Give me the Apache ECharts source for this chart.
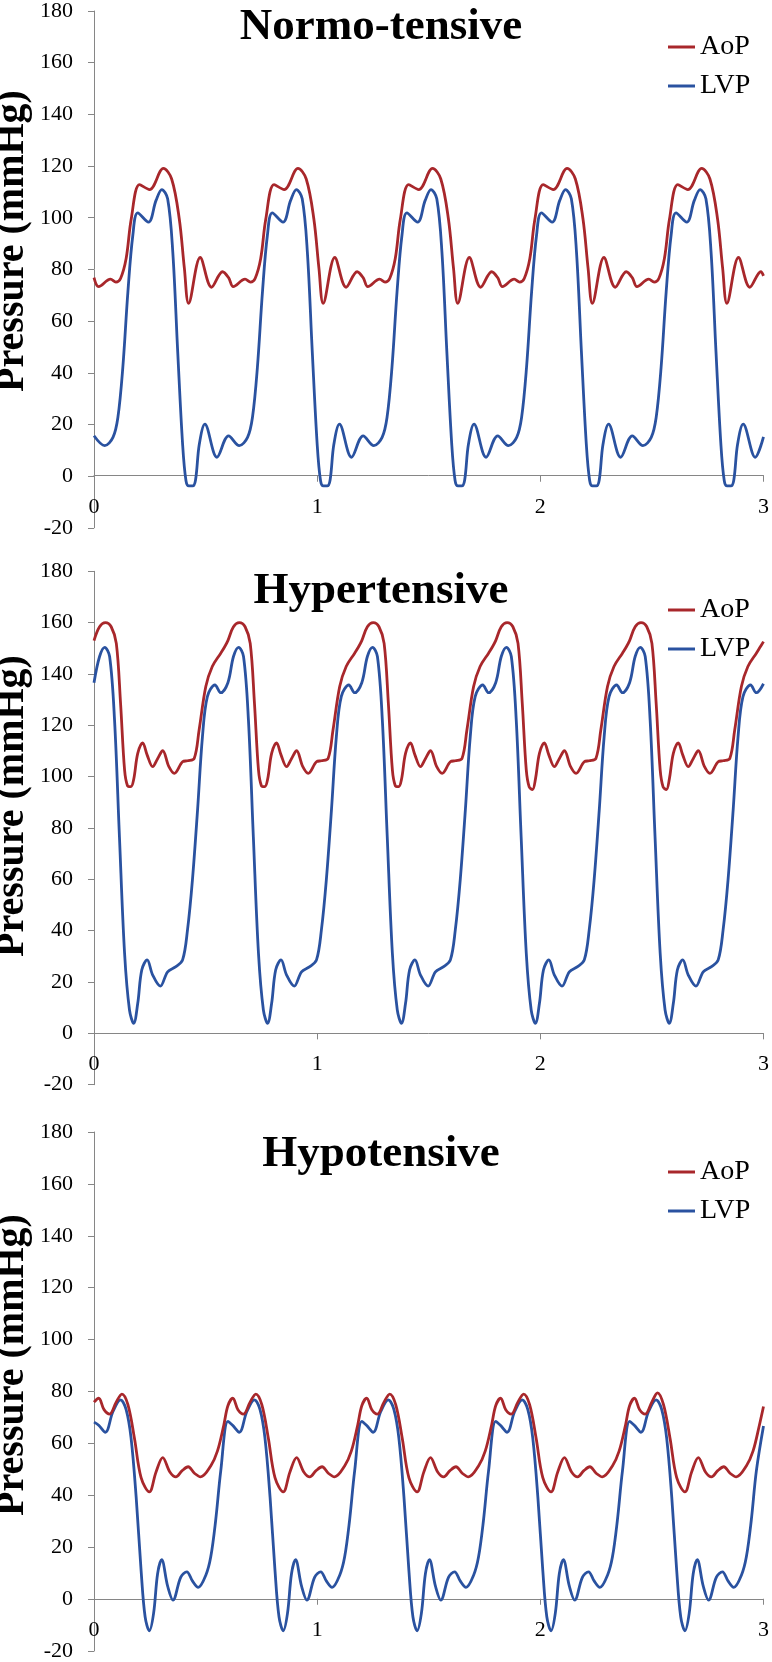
<!DOCTYPE html>
<html>
<head>
<meta charset="utf-8">
<script src="https://cdn.jsdelivr.net/npm/echarts@6/dist/echarts.min.js"></script>
<style>
html,body{margin:0;padding:0;background:#fff;}
#chart{width:772px;height:1662px;}
</style>
</head>
<body>
<div id="chart"></div>
<script>
// ---- data (time in s, pressure in mmHg) ----
const panelTitles = ['Normo-tensive', 'Hypertensive', 'Hypotensive'];
const seriesNames = ['AoP', 'LVP'];
const yLabelText = 'Pressure (mmHg)';

const normoAoP = [
[0,76.8],[0.021,73.3],[0.074,76.2],[0.098,75.1],[0.119,76.5],[0.144,84.2],[0.167,99.6],[0.204,112.8],[0.249,110.9],[0.311,119.1],[0.348,115],[0.382,99.6],[0.405,80.4],[0.424,66.9],[0.476,84.6],[0.527,73.1],[0.576,79.1],
[0.603,76.8],[0.624,73.3],[0.677,76.2],[0.701,75.1],[0.722,76.5],[0.747,84.2],[0.770,99.6],[0.807,112.8],[0.852,110.9],[0.914,119.1],[0.951,115],[0.985,99.6],[1.008,80.4],[1.027,66.9],[1.079,84.6],[1.130,73.1],[1.179,79.1],
[1.206,76.8],[1.227,73.3],[1.280,76.2],[1.304,75.1],[1.325,76.5],[1.350,84.2],[1.373,99.6],[1.410,112.8],[1.455,110.9],[1.517,119.1],[1.554,115],[1.588,99.6],[1.611,80.4],[1.630,66.9],[1.682,84.6],[1.733,73.1],[1.782,79.1],
[1.809,76.8],[1.830,73.3],[1.883,76.2],[1.907,75.1],[1.928,76.5],[1.953,84.2],[1.976,99.6],[2.013,112.8],[2.058,110.9],[2.120,119.1],[2.157,115],[2.191,99.6],[2.214,80.4],[2.233,66.9],[2.285,84.6],[2.336,73.1],[2.385,79.1],
[2.412,76.8],[2.433,73.3],[2.486,76.2],[2.510,75.1],[2.531,76.5],[2.556,84.2],[2.579,99.6],[2.616,112.8],[2.661,110.9],[2.723,119.1],[2.760,115],[2.794,99.6],[2.817,80.4],[2.836,66.9],[2.888,84.6],[2.939,73.1],[2.988,79.1],[3.0,77.5]
];
const normoLVP = [
[0,15.6],[0.048,11.8],[0.085,15.0],[0.107,22.7],[0.129,41.9],[0.152,71.4],[0.174,93.2],[0.196,101.9],[0.244,98.3],[0.278,106.7],[0.304,110.9],[0.330,107.3],[0.353,86.8],[0.375,48.3],[0.397,12.4],[0.412,-1.7],[0.425,-3.8],[0.442,-3.8],[0.455,-1.5],[0.472,12.4],[0.497,20.1],[0.551,7.3],
[0.603,15.6],[0.651,11.8],[0.688,15.0],[0.710,22.7],[0.732,41.9],[0.755,71.4],[0.777,93.2],[0.799,101.9],[0.847,98.3],[0.881,106.7],[0.907,110.9],[0.933,107.3],[0.956,86.8],[0.978,48.3],[1.000,12.4],[1.015,-1.7],[1.028,-3.8],[1.045,-3.8],[1.058,-1.5],[1.075,12.4],[1.100,20.1],[1.154,7.3],
[1.206,15.6],[1.254,11.8],[1.291,15.0],[1.313,22.7],[1.335,41.9],[1.358,71.4],[1.380,93.2],[1.402,101.9],[1.450,98.3],[1.484,106.7],[1.510,110.9],[1.536,107.3],[1.559,86.8],[1.581,48.3],[1.603,12.4],[1.618,-1.7],[1.631,-3.8],[1.648,-3.8],[1.661,-1.5],[1.678,12.4],[1.703,20.1],[1.757,7.3],
[1.809,15.6],[1.857,11.8],[1.894,15.0],[1.916,22.7],[1.938,41.9],[1.961,71.4],[1.983,93.2],[2.005,101.9],[2.053,98.3],[2.087,106.7],[2.113,110.9],[2.139,107.3],[2.162,86.8],[2.184,48.3],[2.206,12.4],[2.221,-1.7],[2.234,-3.8],[2.251,-3.8],[2.264,-1.5],[2.281,12.4],[2.306,20.1],[2.360,7.3],
[2.412,15.6],[2.460,11.8],[2.497,15.0],[2.519,22.7],[2.541,41.9],[2.564,71.4],[2.586,93.2],[2.608,101.9],[2.656,98.3],[2.690,106.7],[2.716,110.9],[2.742,107.3],[2.765,86.8],[2.787,48.3],[2.809,12.4],[2.824,-1.7],[2.837,-3.8],[2.854,-3.8],[2.867,-1.5],[2.884,12.4],[2.909,20.1],[2.963,7.3],[3.0,15.2]
];
const hyperAoP = [
[0,153],[0.025,158.4],[0.051,160],[0.077,158.4],[0.100,151.9],[0.119,128.6],[0.137,102.6],[0.150,96.5],[0.165,96.1],[0.178,99],[0.196,109.1],[0.218,113.2],[0.238,108.5],[0.263,103.9],[0.285,107],[0.308,110.1],[0.335,104],[0.360,101.3],[0.397,105.8],[0.419,106.2],[0.449,107.1],[0.471,118.2],[0.501,135.1],[0.530,142.9],[0.568,148.1],[0.585,150.5],
[0.600,153],[0.625,158.4],[0.651,160],[0.677,158.4],[0.700,151.9],[0.719,128.6],[0.737,102.6],[0.750,96.5],[0.765,96.1],[0.778,99],[0.796,109.1],[0.818,113.2],[0.838,108.5],[0.863,103.9],[0.885,107],[0.908,110.1],[0.935,104],[0.960,101.3],[0.997,105.8],[1.019,106.2],[1.049,107.1],[1.071,118.2],[1.101,135.1],[1.130,142.9],[1.168,148.1],[1.185,150.5],
[1.200,153],[1.225,158.4],[1.251,160],[1.277,158.4],[1.300,151.9],[1.319,128.6],[1.337,102.6],[1.350,96.5],[1.365,96.1],[1.378,99],[1.396,109.1],[1.418,113.2],[1.438,108.5],[1.463,103.9],[1.485,107],[1.508,110.1],[1.535,104],[1.560,101.3],[1.597,105.8],[1.619,106.2],[1.649,107.1],[1.671,118.2],[1.701,135.1],[1.730,142.9],[1.768,148.1],[1.785,150.5],
[1.800,153],[1.825,158.4],[1.851,160],[1.877,158.4],[1.900,151.9],[1.919,128.6],[1.937,102.6],[1.950,96],[1.965,95],[1.978,99],[1.996,109.1],[2.018,113.2],[2.038,108.5],[2.063,103.9],[2.085,107],[2.108,110.1],[2.135,104],[2.160,101.3],[2.197,105.8],[2.219,106.2],[2.249,107.1],[2.271,118.2],[2.301,135.1],[2.330,142.9],[2.368,148.1],[2.385,150.5],
[2.400,153],[2.425,158.4],[2.451,160],[2.477,158.4],[2.500,151.9],[2.519,128.6],[2.537,102.6],[2.550,96],[2.565,95],[2.578,99],[2.596,109.1],[2.618,113.2],[2.638,108.5],[2.663,103.9],[2.685,107],[2.708,110.1],[2.735,104],[2.760,101.3],[2.797,105.8],[2.819,106.2],[2.849,107.1],[2.871,118.2],[2.901,135.1],[2.930,142.9],[2.968,148.1],[2.985,150.5],[3.0,152.6]
];
const hyperLVP = [
[0,136.6],[0.025,146.8],[0.048,150.4],[0.070,146.8],[0.092,122.1],[0.114,76.6],[0.137,31.2],[0.159,9.1],[0.178,3.9],[0.196,11.7],[0.214,24.7],[0.238,28.6],[0.263,22.7],[0.297,18.4],[0.330,24],[0.367,26],[0.397,28.6],[0.419,40.3],[0.441,59.7],[0.464,87],[0.486,115.6],[0.508,131.2],[0.542,135.7],[0.568,132.7],
[0.600,136.6],[0.625,146.8],[0.648,150.4],[0.670,146.8],[0.692,122.1],[0.714,76.6],[0.737,31.2],[0.759,9.1],[0.778,3.9],[0.796,11.7],[0.814,24.7],[0.838,28.6],[0.863,22.7],[0.897,18.4],[0.930,24],[0.967,26],[0.997,28.6],[1.019,40.3],[1.041,59.7],[1.064,87],[1.086,115.6],[1.108,131.2],[1.142,135.7],[1.168,132.7],
[1.200,136.6],[1.225,146.8],[1.248,150.4],[1.270,146.8],[1.292,122.1],[1.314,76.6],[1.337,31.2],[1.359,9.1],[1.378,3.9],[1.396,11.7],[1.414,24.7],[1.438,28.6],[1.463,22.7],[1.497,18.4],[1.530,24],[1.567,26],[1.597,28.6],[1.619,40.3],[1.641,59.7],[1.664,87],[1.686,115.6],[1.708,131.2],[1.742,135.7],[1.768,132.7],
[1.800,136.6],[1.825,146.8],[1.848,150.4],[1.870,146.8],[1.892,122.1],[1.914,76.6],[1.937,31.2],[1.959,9.1],[1.978,3.9],[1.996,11.7],[2.014,24.7],[2.038,28.6],[2.063,22.7],[2.097,18.4],[2.130,24],[2.167,26],[2.197,28.6],[2.219,40.3],[2.241,59.7],[2.264,87],[2.286,115.6],[2.308,131.2],[2.342,135.7],[2.368,132.7],
[2.400,136.6],[2.425,146.8],[2.448,150.4],[2.470,146.8],[2.492,122.1],[2.514,76.6],[2.537,31.2],[2.559,9.1],[2.578,3.9],[2.596,11.7],[2.614,24.7],[2.638,28.6],[2.663,22.7],[2.697,18.4],[2.730,24],[2.767,26],[2.797,28.6],[2.819,40.3],[2.841,59.7],[2.864,87],[2.886,115.6],[2.908,131.2],[2.942,135.7],[2.968,132.7],[3.0,136.2]
];
const hypoAoP = [
[0,75.9],[0.021,77.4],[0.045,73],[0.070,71.3],[0.100,76],[0.125,79],[0.152,74.9],[0.181,62.1],[0.211,46.8],[0.248,41.3],[0.278,49],[0.308,54.5],[0.340,49],[0.367,47.1],[0.395,49.5],[0.422,51],[0.450,48.5],[0.478,47.1],[0.523,51.3],[0.553,57],[0.582,67.2],
[0.600,74.5],[0.622,77.4],[0.645,73],[0.670,71.3],[0.700,76],[0.725,79],[0.752,74.9],[0.781,62.1],[0.811,46.8],[0.848,41.3],[0.878,49],[0.908,54.5],[0.940,49],[0.967,47.1],[0.995,49.5],[1.022,51],[1.050,48.5],[1.078,47.1],[1.123,51.3],[1.153,57],[1.182,67.2],
[1.200,74.5],[1.222,77.4],[1.245,73],[1.270,71.3],[1.300,76],[1.325,79],[1.352,74.9],[1.381,62.1],[1.411,46.8],[1.448,41.3],[1.478,49],[1.508,54.5],[1.540,49],[1.567,47.1],[1.595,49.5],[1.622,51],[1.650,48.5],[1.678,47.1],[1.723,51.3],[1.753,57],[1.782,67.2],
[1.800,74.5],[1.822,77.4],[1.845,73],[1.870,71.3],[1.900,76],[1.925,79],[1.952,74.9],[1.981,62.1],[2.011,46.8],[2.048,41.3],[2.078,49],[2.108,54.5],[2.140,49],[2.167,47.1],[2.195,49.5],[2.222,51],[2.250,48.5],[2.278,47.1],[2.323,51.3],[2.353,57],[2.382,67.2],
[2.400,74.5],[2.422,77.4],[2.445,73],[2.470,71.3],[2.500,76],[2.525,79.5],[2.552,74.9],[2.581,62.1],[2.611,46.8],[2.648,41.3],[2.678,49],[2.708,54.5],[2.740,49],[2.767,47.1],[2.795,49.5],[2.822,51],[2.850,48.5],[2.878,47.1],[2.923,51.3],[2.953,57],[2.982,67.2],[3.0,74.2]
];
const hypoLVP = [
[0,68.2],[0.021,67],[0.051,64.3],[0.085,72.3],[0.119,76.8],[0.144,73],[0.166,62.1],[0.189,39.2],[0.211,11.1],[0.229,-6.8],[0.248,-12.2],[0.267,-5.5],[0.285,9.8],[0.303,15.2],[0.330,5],[0.354,-0.4],[0.389,8.5],[0.416,10.5],[0.441,7],[0.467,4.5],[0.501,9.2],[0.523,16.2],[0.545,30.2],[0.568,49.4],
[0.600,68.5],[0.621,67],[0.651,64.3],[0.685,72.3],[0.719,76.8],[0.744,73],[0.766,62.1],[0.789,39.2],[0.811,11.1],[0.829,-6.8],[0.848,-12.2],[0.867,-5.5],[0.885,9.8],[0.903,15.2],[0.930,5],[0.954,-0.4],[0.989,8.5],[1.016,10.5],[1.041,7],[1.067,4.5],[1.101,9.2],[1.123,16.2],[1.145,30.2],[1.168,49.4],
[1.200,68.5],[1.221,67],[1.251,64.3],[1.285,72.3],[1.319,76.8],[1.344,73],[1.366,62.1],[1.389,39.2],[1.411,11.1],[1.429,-6.8],[1.448,-12.2],[1.467,-5.5],[1.485,9.8],[1.503,15.2],[1.530,5],[1.554,-0.4],[1.589,8.5],[1.616,10.5],[1.641,7],[1.667,4.5],[1.701,9.2],[1.723,16.2],[1.745,30.2],[1.768,49.4],
[1.800,68.5],[1.821,67],[1.851,64.3],[1.885,72.3],[1.919,76.8],[1.944,73],[1.966,62.1],[1.989,39.2],[2.011,11.1],[2.029,-6.8],[2.048,-12.2],[2.067,-5.5],[2.085,9.8],[2.103,15.2],[2.130,5],[2.154,-0.4],[2.189,8.5],[2.216,10.5],[2.241,7],[2.267,4.5],[2.301,9.2],[2.323,16.2],[2.345,30.2],[2.368,49.4],
[2.400,68.5],[2.421,67],[2.451,64.3],[2.485,72.3],[2.519,76.8],[2.544,73],[2.566,62.1],[2.589,39.2],[2.611,11.1],[2.629,-6.8],[2.648,-12.2],[2.667,-5.5],[2.685,9.8],[2.703,15.2],[2.730,5],[2.754,-0.4],[2.789,8.5],[2.816,10.5],[2.841,7],[2.867,4.5],[2.901,9.2],[2.923,16.2],[2.945,30.2],[2.968,49.4],[3.0,66.7]
];

// ---- layout & style ----
const FONT = "'Liberation Serif','Times New Roman',serif";
const RED = '#A8272B';
const BLUE = '#2A52A0';
const AXIS = '#868686';
const Y_MIN = -20, Y_MAX = 180;
const grids = [
  {top: 7.2, height: 520.6},
  {top: 571.3, height: 513.4},
  {top: 1132, height: 522.5}
];
const titleTops = [5, 568.5, 1131.5];
const legendTops = [33, 596, 1158];
const yNameCenters = [241, 806, 1365];
const panelData = [[normoAoP, normoLVP], [hyperAoP, hyperLVP], [hypoAoP, hypoLVP]];

const chart = echarts.init(document.getElementById('chart'), null, {renderer: 'canvas'});

const option = {
  animation: false,
  backgroundColor: '#fff',
  title: panelTitles.map((t, i) => ({
    text: t, left: 381, top: titleTops[i], textAlign: 'center', padding: 0,
    textStyle: {fontFamily: FONT, fontSize: 45, fontWeight: 'bold', color: '#000', lineHeight: 45}
  })),
  legend: grids.map((g, i) => ({
    orient: 'vertical', left: 668, top: legendTops[i], padding: 0,
    itemWidth: 27, itemHeight: 3, itemGap: 11, icon: 'rect',
    data: seriesNames,
    textStyle: {fontFamily: FONT, fontSize: 28, color: '#000', lineHeight: 28}
  })),
  grid: grids.map(g => ({left: 94, right: 5, top: g.top, height: g.height, containLabel: false})),
  // x axis sits on the y = 0 line: shift it up from the grid bottom by the height of (0 - Y_MIN)
  xAxis: grids.map((g, i) => ({
    type: 'value', gridIndex: i, min: 0, max: 3, interval: 1, position: 'bottom',
    offset: -g.height * (0 - Y_MIN) / (Y_MAX - Y_MIN),
    axisLine: {show: true, onZero: false, lineStyle: {color: AXIS, width: 1}},
    axisTick: {show: true, length: 6, lineStyle: {color: AXIS}},
    axisLabel: {margin: 20, fontFamily: FONT, fontSize: 22, color: '#000'},
    splitLine: {show: false}
  })),
  yAxis: grids.map((g, i) => ({
    type: 'value', gridIndex: i, min: Y_MIN, max: Y_MAX, interval: 20,
    axisLine: {show: true, onZero: false, lineStyle: {color: AXIS, width: 1}},
    axisTick: {show: true, length: 6, lineStyle: {color: AXIS}},
    axisLabel: {margin: 21, fontFamily: FONT, fontSize: 22, color: '#000'},
    splitLine: {show: false}
  })),
  graphic: yNameCenters.map(c => ({
    type: 'text', x: 13, y: c, rotation: Math.PI / 2,
    style: {text: yLabelText, font: 'bold 40px ' + FONT, fill: '#000',
      align: 'center', verticalAlign: 'middle', textAlign: 'center', textVerticalAlign: 'middle'}
  })),
  series: []
};

panelData.forEach((pair, i) => {
  pair.forEach((d, j) => {
    option.series.push({
      name: seriesNames[j], type: 'line', xAxisIndex: i, yAxisIndex: i,
      data: d, smooth: 0.35, showSymbol: false, symbol: 'none',
      lineStyle: {width: 2.8, color: j === 0 ? RED : BLUE},
      itemStyle: {color: j === 0 ? RED : BLUE},
      z: j === 0 ? 3 : 2
    });
  });
});

chart.setOption(option);
</script>
</body>
</html>
